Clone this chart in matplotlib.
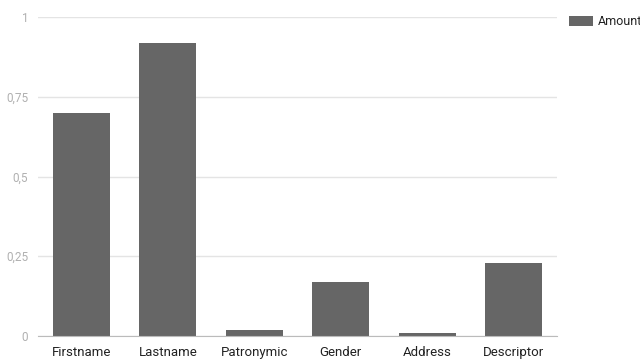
import matplotlib
matplotlib.use("Agg")
import matplotlib.pyplot as plt
from matplotlib.ticker import FuncFormatter

categories = ["Firstname", "Lastname", "Patronymic", "Gender", "Address", "Descriptor"]
amounts = [0.70, 0.92, 0.02, 0.17, 0.01, 0.23]
yticks = [0, 0.25, 0.5, 0.75, 1]

plt.rcParams['font.family'] = ['Roboto', 'DejaVu Sans']

fig = plt.figure(figsize=(6.4, 3.59), dpi=100)
# axes box in pixels: left 38, right 557, top 17, bottom 336
ax = fig.add_axes([38/640, 1 - 336/359, (557 - 38)/640, (336 - 17)/359])

ax.bar(range(len(categories)), amounts, width=0.66, color="#666666", label="Amount", zorder=3)

ax.set_xlim(-0.5, len(categories) - 0.5)
ax.set_ylim(0, 1)
ax.set_yticks(yticks)
ax.yaxis.set_major_formatter(FuncFormatter(lambda v, p: ("%g" % v).replace(".", ",")))
ax.set_xticks(range(len(categories)))
ax.set_xticklabels(categories)

ax.grid(axis="y", color="#e4e4e4", linewidth=1, zorder=0)
for s in ["top", "right", "left"]:
    ax.spines[s].set_visible(False)
ax.spines["bottom"].set_color("#bbbbbb")
ax.spines["bottom"].set_zorder(4)
ax.tick_params(axis="y", length=0, pad=7, labelsize=8.5, labelcolor="#b0b0b0")
ax.tick_params(axis="x", length=0, pad=7, labelsize=9.5, labelcolor="#222222")

ax.legend(loc="upper left", bbox_to_anchor=(569/640, 1 - 15/359), bbox_transform=fig.transFigure,
          frameon=False, fontsize=9, handlelength=1.9, handleheight=0.9, handletextpad=0.4,
          borderpad=0, borderaxespad=0, labelcolor="#222222")

fig.savefig("out.png", dpi=100)
